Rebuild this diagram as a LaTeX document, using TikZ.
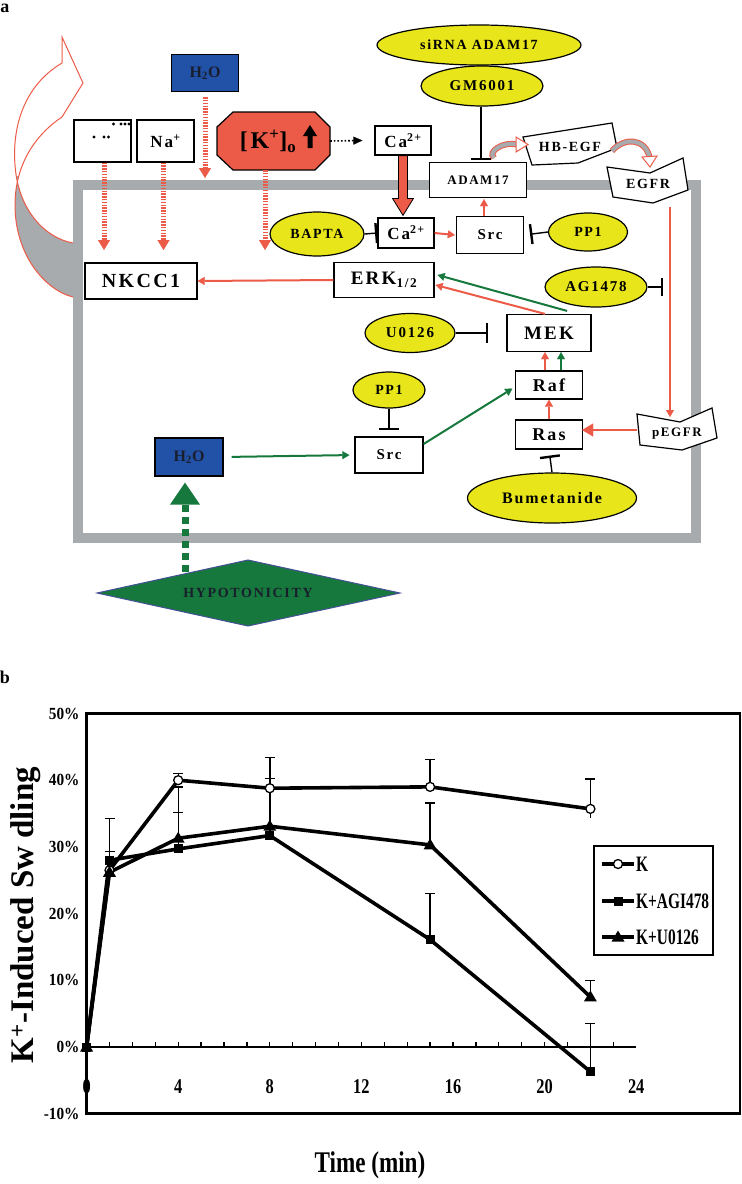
\documentclass[tikz,border=0pt]{standalone}
\usepackage{fontspec}
\usepackage{graphicx}
\setmainfont{Liberation Serif}
\newfontfamily\lsp[LetterSpace=12]{Liberation Serif}
\usetikzlibrary{arrows.meta,shapes.geometric,calc}
\definecolor{cred}{RGB}{236,90,72}
\definecolor{cgreen}{RGB}{22,120,60}
\definecolor{cyel}{RGB}{232,230,26}
\definecolor{cblue}{RGB}{33,82,168}
\definecolor{cgray}{RGB}{168,171,174}
\definecolor{ctxt}{RGB}{25,30,45}
\definecolor{cdia}{RGB}{70,80,150}
\newcommand{\fsz}[1]{\fontsize{#1}{#1}\selectfont}
\tikzset{
 bx/.style={draw=black, line width=1.2pt, fill=white, inner sep=0pt, font=\lsp\bfseries},
 el/.style={ellipse, draw=black, line width=1.2pt, fill=cyel, inner sep=0pt, font=\lsp\bfseries},
 rarr/.style={cred, line width=2pt, -{Triangle[length=7pt,width=8pt,line width=0.1pt]}},
 garr/.style={cgreen, line width=2pt, -{Triangle[length=7pt,width=8pt,line width=0.1pt]}},
 inh/.style={black, line width=1.4pt, -{Bar[width=20pt,line width=2.4pt]}},
 rdot/.style={cred, line width=5pt, dash pattern=on 1.4pt off 1.4pt, -{Triangle[length=10pt,width=12pt,line width=0.1pt]}},
 lbl/.style={inner sep=0pt, font=\lsp\bfseries},
 dline/.style={line width=3.6pt, line join=round},
 ebar/.style={line width=1.4pt},
 chtxt/.style={inner sep=0pt, font=\bfseries},
}
\begin{document}
\begin{tikzpicture}[x=1pt,y=-1pt]
\useasboundingbox (0,0) rectangle (742,1184);
\node[font=\bfseries\fsz{18}, inner sep=0] (la) at (5,8) {a};
\node[font=\bfseries\fsz{18}, inner sep=0] (lb) at (5,677) {b};

% big curved hollow arrow on the left
\begin{scope}
\clip (0,176) rectangle (73,300);
\fill[cgray] (62,63) .. controls (25,85) and (12,125) .. (15,165) .. controls (18,210) and (45,238) .. (73,243) -- (73,297) .. controls (45,290) and (15,255) .. (15,205) .. controls (15,165) and (35,135) .. (62,117) -- cycle;
\end{scope}
\draw[cred, line width=1pt] (62,63) .. controls (25,85) and (12,125) .. (15,165) .. controls (18,210) and (45,238) .. (73,243);
\draw[cred, line width=1pt] (62,117) .. controls (35,135) and (15,165) .. (15,205) .. controls (15,255) and (45,290) .. (73,297);
\draw[cred, line width=1pt, line join=miter] (62,63) -- (62,37) -- (83,83) -- (62,117);

% membrane
\draw[cgray, line width=10pt] (78,184.5) rectangle (696,538);

% level coordinates
\coordinate (lvl) at (0,250);
\coordinate (mtop) at (0,178);

% outside nodes
\node[bx, minimum width=57pt, minimum height=42pt] (cl) at (102.5,141) {};
\foreach \p in {(94,137),(104,137),(108.5,137),(113.5,124),(121,124),(125,124),(129,124)} \fill \p circle (1.6pt);
\node[bx, minimum width=57pt, minimum height=42pt] (na) at (165.5,141) {\fsz{17}Na\textsuperscript{+}};
\node[bx, fill=cblue, minimum width=67pt, minimum height=37pt] (h2oa) at (205,73) {\fsz{16}\textcolor{ctxt}{H\textsubscript{2}O}};

\draw[black, line width=1.2pt, fill=cred] (233,112) -- (315,112) -- (330,127) -- (330,155) -- (315,170) -- (233,170) -- (217,155) -- (217,127) -- cycle;
\node[inner sep=0pt, minimum width=113pt, minimum height=58pt] (ko) at (273.5,141) {};
\node[lbl] (kotxt) at (268,141) {\fsz{24}[K\textsuperscript{+}]\textsubscript{o}};
\fill (303,136) -- (310,125) -- (317,136) -- (312.5,136) -- (312.5,148) -- (307.5,148) -- (307.5,136) -- cycle;

\node[bx, minimum width=56pt, minimum height=29pt] (caa) at (403,140.5) {\fsz{17}Ca\textsuperscript{2+}};
\draw[line width=1.6pt, dash pattern=on 1.6pt off 2pt, -{Triangle[length=9pt,width=8pt,line width=0.1pt]}] (ko.east) -- ([xshift=-12pt]caa.west);

% red dotted arrows
\draw[rdot] ([xshift=1.5pt]cl.south) -- ([xshift=1.5pt]cl.south |- lvl);
\draw[rdot] ([xshift=-2pt]na.south) -- ([xshift=-2pt]na.south |- lvl);
\draw[rdot] ([yshift=-5pt]h2oa.south) -- (h2oa.south |- mtop);
\draw[rdot] ([xshift=-8.5pt]ko.south) -- ([xshift=-8.5pt]ko.south |- lvl);

% inside nodes
\node[el, minimum width=94pt, minimum height=44pt] (bapta) at (317,234) {\fsz{14}BAPTA};
\node[bx, minimum width=56pt, minimum height=30pt] (ca2) at (406,233) {\fsz{17}Ca\textsuperscript{2+}};
\node[bx, minimum width=67pt, minimum height=37pt] (src1) at (490,235) {\fsz{15}Src};
\node[el, minimum width=79pt, minimum height=38pt] (pp1a) at (588,232) {\fsz{14}PP1};
\node[bx, minimum width=97pt, minimum height=35pt] (adam) at (478,180) {\fsz{13}ADAM17};
\node[el, minimum width=122pt, minimum height=40pt] (gm) at (482,86) {\fsz{15}GM6001};
\node[el, minimum width=204pt, minimum height=40pt] (sirna) at (479,45) {\fsz{14}siRNA ADAM17};

\draw[line width=1.2pt, fill=white] (523,137) -- (612,123) -- (617,148) -- (578,163) -- (532,165) -- cycle;
\node[lbl] (hb) at (570,147) {\fsz{14}HB-EGF};
\draw[line width=1.2pt, fill=white] (607,167) -- (650,173) -- (683,158) -- (688,190) -- (653,203) -- (613,197) -- cycle;
\node[lbl] (egfr) at (648,184) {\fsz{14}EGFR};

\node[bx, minimum width=100pt, minimum height=35pt] (erk) at (384,280) {\fsz{19}ERK\textsubscript{1/2}};
\node[bx, minimum width=112pt, minimum height=36pt] (nkcc) at (141,281) {\fsz{20}NKCC1};
\node[el, minimum width=102pt, minimum height=40pt] (ag) at (596,287) {\fsz{15}AG1478};
\node[bx, minimum width=84pt, minimum height=37pt] (mek) at (549,333) {\fsz{19}MEK};
\node[el, minimum width=90pt, minimum height=39pt] (u0126) at (410,333) {\fsz{15}U0126};
\node[bx, minimum width=67pt, minimum height=28pt] (raf) at (549,385) {\fsz{18}Raf};
\node[bx, minimum width=67pt, minimum height=29pt] (ras) at (549,434.5) {\fsz{18}Ras};
\node[el, minimum width=169pt, minimum height=50pt] (bum) at (552,498) {\fsz{16}Bumetanide};
\draw[line width=1.2pt, fill=white] (637,414) -- (680,422) -- (712,408) -- (717,438) -- (682,450) -- (640,445) -- cycle;
\node[lbl] (pegfr) at (677,434) {\fsz{13}pEGFR};
\node[bx, minimum width=68pt, minimum height=36pt] (src2) at (389,455) {\fsz{15}Src};
\node[el, minimum width=72pt, minimum height=36pt] (pp1b) at (389,390) {\fsz{14}PP1};
\node[bx, fill=cblue, minimum width=68pt, minimum height=38pt] (h2ob) at (189,457) {\fsz{16}\textcolor{ctxt}{H\textsubscript{2}O}};

\draw[line width=1pt, draw=cdia, fill=cgreen] (97,593) -- (248,560) -- (400,593) -- (248,626) -- cycle;
\node[lbl] (hypo) at (248,593) {\fsz{14}\textcolor{ctxt}{HYPOTONICITY}};

% big red arrow Ca -> Ca
\coordinate (tipc) at ([yshift=2pt]caa.south |- ca2.north);
\draw[black, line width=0.8pt, fill=cred] ($(caa.south)+(-4.5,0)$) -- ($(tipc)+(-4.5,-17)$) -- ($(tipc)+(-10.5,-17)$) -- (tipc) -- ($(tipc)+(10.5,-17)$) -- ($(tipc)+(4.5,-17)$) -- ($(caa.south)+(4.5,0)$) -- cycle;

% connectors
\draw[inh] (bapta.east) -- (ca2.west);
\draw[rarr] (ca2.east) -- ([xshift=-1pt]src1.west);
\draw[inh, shorten >=6pt] (pp1a.west) -- (src1.east);
\draw[rarr] ([xshift=-6pt]src1.north) -- ([xshift=6pt,yshift=-1pt]adam.south);
\draw[inh, shorten >=2pt] (gm.south -| 481,0) -- (adam.north -| 481,0);
\draw[rarr] (erk.west) -- (nkcc.east);
\draw[rarr] ([xshift=-4pt]mek.north) -- ([xshift=1pt,yshift=-5pt]erk.east);
\draw[garr] ([xshift=18pt,yshift=3pt]mek.north) -- ([xshift=3pt,yshift=5pt]erk.east);
\draw[rarr] ([xshift=-4pt]raf.north) -- ([xshift=-4pt]mek.south);
\draw[garr] ([xshift=12pt]raf.north) -- ([xshift=12pt]mek.south);
\draw[rarr] (ras.north) -- (raf.south);
\draw[inh, shorten >=18pt] (u0126.east) -- (mek.west);
\draw[inh, shorten >=6pt] (pp1b.south) -- (src2.north);
\draw[inh, shorten >=6pt] (bum.north) -- (ras.south);
\coordinate (agb) at (663,287);
\draw[inh, -{Bar[width=18pt,line width=2.4pt]}] (ag.east) -- (agb);
\coordinate (e1) at (670,207);
\coordinate (e2) at (670,417);
\draw[rarr] (e1) -- (e2);
\coordinate (pl) at (637,430);
\draw[cred, line width=2.4pt, -{Triangle[length=11pt,width=13pt,line width=0.1pt]}] (pl) -- ([xshift=-1pt]ras.east |- pl);
\draw[garr, shorten <=8pt, shorten >=5pt] (h2ob.east) -- (src2.west);
\draw[garr, shorten >=3pt] ([yshift=11pt]src2.east) -- ([yshift=-2pt]raf.west);

% curved HB-EGF arrows
\draw[cred, line width=1pt, double=cgray, double distance=4pt] ([xshift=16pt,yshift=4pt]adam.north) .. controls (487,152) and (503,141) .. (517,144.5);
\draw[cred, line width=1pt, fill=white] (516,137) -- (528,144.5) -- (516,152) -- cycle;
\draw[cred, line width=1pt, double=cgray, double distance=4pt] (612,151) .. controls (624,137) and (645,138) .. (649.5,157);
\draw[cred, line width=1pt, fill=white] (642,157) -- (650,167) -- (657,156) -- cycle;

% hypotonicity dashed green arrow
\coordinate (hyt) at (185,572);
\draw[cgreen, line width=7pt, dash pattern=on 7pt off 5pt] (hyt) -- ([yshift=-27pt]h2ob.south -| hyt);
\fill[cgreen] ([yshift=-6pt]h2ob.south -| hyt) -- ++(15,22) -- ++(-30,0) -- cycle;

% ================= chart b =================
\begin{scope}[shift={(86.6,1047)}, x=22.9pt, y=6.67pt]
\foreach \t in {0,4,8,12,16,20,24} \node[chtxt] (xl\t) at (\t,-6) {\fsz{21}\scalebox{0.78}[1]{\t}};
\foreach \v in {50,40,30,20,10,0,-10} \node[chtxt, anchor=east] (yl\v) at (-0.3,\v) {\fsz{17}\scalebox{0.9}[1]{\v\%}};
\draw[line width=2.5pt] (0,-10) rectangle (28.53,50);
\draw[line width=2.5pt] (0,0) -- (24,0);
\foreach \t in {1,...,23} \draw[line width=1.3pt] (\t,0) -- (\t,0.8);
% error bars
\foreach \t/\a/\b in {4/40/41, 8/38.8/43.4, 15/39/43.1, 22/35.7/40.2, 1/28/34.3, 4/29.7/39, 8/31.7/40.3, 15/16.1/23, 22/-3.7/3.5, 1/26.2/29.3, 4/31.3/35.2, 15/30.3/36.6, 22/7.5/10}
  \draw[ebar] (\t,\a) -- (\t,\b) ++(-5pt,0) -- ++(10pt,0);
\draw[ebar] (22,35.7) -- (22,34.4);
% lines
\draw[dline] (0,0) -- (1,26.5) -- (4,40) -- (8,38.8) -- (15,39) -- (22,35.7);
\draw[dline] (0,0) -- (1,28) -- (4,29.7) -- (8,31.7) -- (15,16.1) -- (22,-3.7);
\draw[dline] (0,0) -- (1,26.2) -- (4,31.3) -- (8,33.1) -- (15,30.3) -- (22,7.5);
% markers
\foreach \t/\v in {1/26.5,4/40,8/38.8,15/39,22/35.7} \draw[line width=1.3pt, fill=white] (\t,\v) circle (4.5pt);
\foreach \t/\v in {0/0,1/26.2,4/31.3,8/33.1,15/30.3,22/7.5} \fill (\t,\v) ++(0,6.5pt) -- ++(-6.5pt,-11pt) -- ++(13pt,0pt) -- cycle;
\foreach \t/\v in {0/0,1/28,4/29.7,8/31.7,15/16.1,22/-3.7} \fill (\t,\v) ++(-4.5pt,-4.5pt) rectangle ++(9pt,9pt);
\end{scope}

% legend
\draw[line width=2.2pt] (594,846) rectangle (713,955);
\draw[dline] (602,864) -- (634,864);
\draw[line width=1.3pt, fill=white] (618,864) circle (4.5pt);
\draw[dline] (602,901) -- (634,901);
\fill (618,901) ++(-4.5pt,-4.5pt) rectangle ++(9pt,9pt);
\draw[dline] (602,937) -- (634,937);
\fill (618,937) ++(0,6.5pt) -- ++(-6.5pt,-11pt) -- ++(13pt,0pt) -- cycle;
\node[chtxt, anchor=west] (lg1) at (636,864) {\fsz{22}\scalebox{0.7}[1]{K}};
\node[chtxt, anchor=west] (lg2) at (636,901) {\fsz{22}\scalebox{0.7}[1]{K+AGI478}};
\node[chtxt, anchor=west] (lg3) at (636,937) {\fsz{22}\scalebox{0.7}[1]{K+U0126}};

% axis titles
\node[chtxt, rotate=90] (ytitle) at (26,915) {\fsz{33}K\textsuperscript{+}-Induced Sw dling};
\node[chtxt] (xtitle) at (370,1165) {\fsz{30}\scalebox{0.77}[1]{Time (min)}};
\end{tikzpicture}
\end{document}
